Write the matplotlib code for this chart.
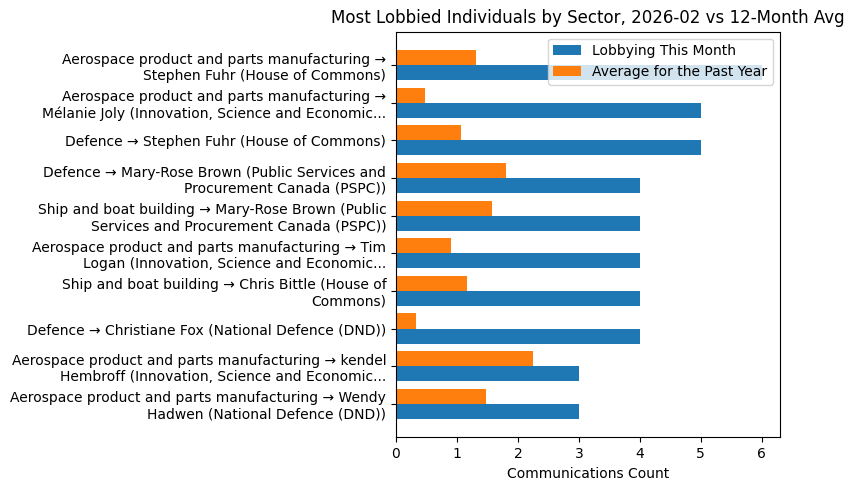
import matplotlib
matplotlib.use('Agg')
import matplotlib.pyplot as plt
import numpy as np
import textwrap

labels = [
    'Aerospace product and parts manufacturing → Stephen Fuhr (House of Commons)',
    'Aerospace product and parts manufacturing → Mélanie Joly (Innovation, Science and Economic...',
    'Defence → Stephen Fuhr (House of Commons)',
    'Defence → Mary-Rose Brown (Public Services and Procurement Canada (PSPC))',
    'Ship and boat building → Mary-Rose Brown (Public Services and Procurement Canada (PSPC))',
    'Aerospace product and parts manufacturing → Tim Logan (Innovation, Science and Economic...',
    'Ship and boat building → Chris Bittle (House of Commons)',
    'Defence → Christiane Fox (National Defence (DND))',
    'Aerospace product and parts manufacturing → kendel Hembroff (Innovation, Science and Economic...',
    'Aerospace product and parts manufacturing → Wendy Hadwen (National Defence (DND))',
]
this_month = [6, 5, 5, 4, 4, 4, 4, 4, 3, 3]
past_year_avg = [1.32, 0.48, 1.07, 1.81, 1.57, 0.91, 1.16, 0.32, 2.24, 1.48]

wrapped = [textwrap.fill(l, 50) for l in labels]
y = np.arange(len(labels))
h = 0.4

fig, ax = plt.subplots(figsize=(8.54, 4.9), dpi=100)
ax.barh(y + h / 2, this_month, height=h, label='Lobbying This Month')
ax.barh(y - h / 2, past_year_avg, height=h, label='Average for the Past Year')
ax.set_yticks(y)
ax.set_yticklabels(wrapped)
ax.invert_yaxis()
ax.set_xlabel('Communications Count')
ax.set_title('Most Lobbied Individuals by Sector, 2026-02 vs 12-Month Avg')
ax.legend(loc='upper right')
fig.subplots_adjust(left=0.4637, right=0.9133, top=0.9353, bottom=0.1076)
plt.savefig('out.png', dpi=100)
